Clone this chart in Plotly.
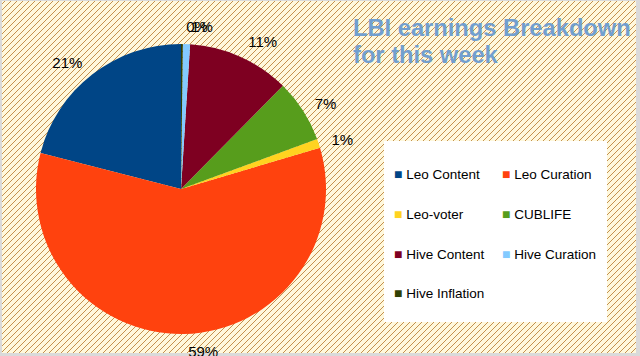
import base64
import plotly.graph_objects as go

# ---- data ----
labels = ["Leo Content", "Leo Curation", "Leo-voter", "CUBLIFE",
          "Hive Content", "Hive Curation", "Hive Inflation"]
values = [21.0, 58.6, 1.0, 7.0, 11.4, 0.8, 0.2]
colors = ["#004586", "#ff420e", "#ffd320", "#579d1c",
          "#7e0021", "#83caff", "#314004"]
title_lines = ["LBI earnings Breakdown", "for this week"]

# percentage labels are drawn in separate (transparent) passes so that the
# two tiny top slices keep their labels side by side without leader lines
label_groups = [[0, 1, 2, 3, 4], [5], [6]]

# ---- layout geometry (pixels) ----
W, H = 640, 356
CX, CY = 181, 189          # pie centre
R_PIE = 145                # pie radius
R_TXT = 154                # radius used to place the outside labels
L, T = CX - R_TXT, CY - R_TXT
PW = PH = 2 * R_TXT
R = W - L - PW
B = H - T - PH


def px_x(px):
    return (px - L) / PW


def px_y(py):
    return 1 - (py - T) / PH


inset = (R_TXT - R_PIE) / (2 * R_TXT)

# hatched background (cream with diagonal brown lines, thin grey frame)
svg = (
    '<svg xmlns="http://www.w3.org/2000/svg" width="640" height="356" '
    'viewBox="0 0 640 356" shape-rendering="crispEdges">'
    '<defs><pattern id="h" width="6" height="6" patternUnits="userSpaceOnUse">'
    '<path d="M-1,1 L1,-1 M0,6 L6,0 M5,7 L7,5" stroke="#c4914e" stroke-width="1"/>'
    '</pattern></defs>'
    '<rect width="640" height="356" fill="#dadada"/>'
    '<rect x="2" y="1" width="634" height="352" fill="#fff8dc"/>'
    '<rect x="2" y="1" width="634" height="352" fill="url(#h)"/>'
    '</svg>'
)
src = "data:image/svg+xml;base64," + base64.b64encode(svg.encode()).decode()

# first slice starts at 12 o'clock and runs counter-clockwise
rotation = -values[0] / sum(values) * 360

fig = go.Figure()
# the visible pie
fig.add_trace(go.Pie(
    labels=labels, values=values,
    marker=dict(colors=colors, line=dict(width=0)),
    sort=False, direction="counterclockwise", rotation=rotation,
    textposition="none", showlegend=False,
    domain=dict(x=[inset, 1 - inset], y=[inset, 1 - inset]),
))
# label passes (same slices, transparent)
for grp in label_groups:
    fig.add_trace(go.Pie(
        labels=labels, values=values,
        marker=dict(colors=["rgba(0,0,0,0)"] * len(values), line=dict(width=0)),
        sort=False, direction="counterclockwise", rotation=rotation,
        textposition=["outside" if k in grp else "none"
                      for k in range(len(values))],
        texttemplate="%{percent:.0%}",
        textfont=dict(family="Liberation Sans", size=15, color="#000000"),
        showlegend=False, hoverinfo="skip",
        domain=dict(x=[0, 1], y=[0, 1]),
    ))

for i, (lab, col) in enumerate(zip(labels, colors)):
    fig.add_trace(go.Scatter(
        x=[None], y=[None], mode="lines",
        line=dict(width=0, color=col),
        name=f'<span style="color:{col};font-size:14px">\u25a0</span>\u00a0{lab}',
        legend="legend" if i % 2 == 0 else "legend2",
        legendgroup=lab, showlegend=True, hoverinfo="skip",
    ))

legend_common = dict(
    xref="container", xanchor="left", yref="container", yanchor="top",
    y=1 - 158.7 / H, orientation="v", traceorder="grouped",
    tracegroupgap=19.15, bgcolor="rgba(0,0,0,0)", borderwidth=0,
    font=dict(family="Liberation Sans", size=13.5, color="#000000"),
)

title_text = "<br>".join(
    f'<span style="font-size:23.7px">{t}</span>' for t in title_lines)

fig.update_layout(
    width=W, height=H,
    margin=dict(l=L, r=R, t=T, b=B, autoexpand=False),
    paper_bgcolor="#fff8dc", plot_bgcolor="rgba(0,0,0,0)",
    xaxis=dict(visible=False), yaxis=dict(visible=False),
    title=dict(text=title_text, x=353 / W, xref="container", xanchor="left",
               y=1 - 36 / H, yref="container", yanchor="top",
               font=dict(family="Liberation Sans", size=20.5,
                         color="#729fcf", weight="bold")),
    legend=dict(x=354 / W, **legend_common),
    legend2=dict(x=462 / W, **legend_common),
    images=[dict(source=src, xref="paper", yref="paper",
                 x=px_x(0), y=px_y(0), sizex=W / PW, sizey=H / PH,
                 xanchor="left", yanchor="top", sizing="stretch",
                 layer="below")],
    shapes=[dict(type="rect", xref="paper", yref="paper",
                 x0=px_x(384), x1=px_x(607), y0=px_y(141), y1=px_y(322),
                 fillcolor="#ffffff", line=dict(width=0), layer="below")],
)

fig.write_html(
    "out.html",
    config={"displayModeBar": False},
    post_script="document.body.style.margin='0';"
                "document.body.style.overflow='hidden';",
)
